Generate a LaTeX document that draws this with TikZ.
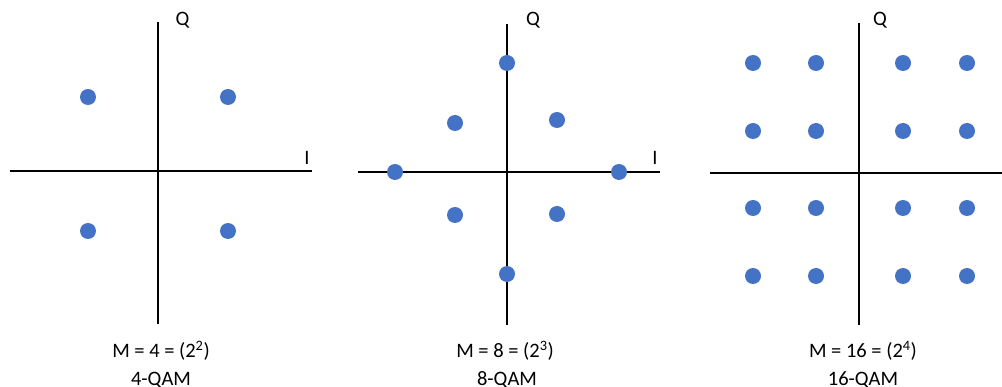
\documentclass[tikz,border=0pt]{standalone}
\usepackage{fontspec}
\setmainfont{Carlito}
\definecolor{dotblue}{HTML}{4472C4}
\begin{document}
\begin{tikzpicture}[x=1pt,y=-1pt,
  dot/.style={circle,fill=dotblue,inner sep=0pt,minimum size=16pt},
  axis/.style={line width=2pt,black},
  lbl/.style={anchor=base,inner sep=0pt,font=\fontsize{20.5}{24}\selectfont}]
\useasboundingbox (0,0) rectangle (1002,387);
% ---------- panel 1 ----------
\coordinate (v1t) at (158,22); \coordinate (v1b) at (158,324);
\coordinate (h1l) at (10,171); \coordinate (h1r) at (312,171);
\draw[axis] (v1t) -- (v1b);
\draw[axis] (h1l) -- (h1r);
\node[lbl] (q1) at (182.5,26) {Q};
\node[lbl] (i1) at (307,165) {I};
\node[dot] (a1) at (88,97) {};
\node[dot] (a2) at (228,97) {};
\node[dot] (a3) at (88,231) {};
\node[dot] (a4) at (228,231) {};
\node[lbl] (m1) at (161,358) {M = 4 = (2\textsuperscript{2})};
\node[lbl] (n1) at (161,385) {4-QAM};
% ---------- panel 2 ----------
\coordinate (v2t) at (507,24); \coordinate (v2b) at (507,325);
\coordinate (h2l) at (358,172); \coordinate (h2r) at (660,172);
\draw[axis] (v2t) -- (v2b);
\draw[axis] (h2l) -- (h2r);
\node[lbl] (q2) at (533,26) {Q};
\node[lbl] (i2) at (655,165) {I};
\node[dot] (b1) at (507,63) {};
\node[dot] (b2) at (455,123) {};
\node[dot] (b3) at (557,120) {};
\node[dot] (b4) at (395,172) {};
\node[dot] (b5) at (619,172) {};
\node[dot] (b6) at (455,215) {};
\node[dot] (b7) at (557,214) {};
\node[dot] (b8) at (507,274) {};
\node[lbl] (m2) at (505,358) {M = 8 = (2\textsuperscript{3})};
\node[lbl] (n2) at (507,385) {8-QAM};
% ---------- panel 3 ----------
\coordinate (v3t) at (859,23); \coordinate (v3b) at (859,325);
\coordinate (h3l) at (710,173); \coordinate (h3r) at (1005,173);
\draw[axis] (v3t) -- (v3b);
\draw[axis] (h3l) -- (h3r);
\node[lbl] (q3) at (880,26) {Q};
\node[lbl] (i3) at (1003.5,165) {I};
\foreach \x [count=\i] in {753,816,903,967}
  \foreach \y [count=\j] in {63,131,208,276}
    \node[dot] (c\i\j) at (\x,\y) {};
\node[lbl] (m3) at (863,358) {M = 16 = (2\textsuperscript{4})};
\node[lbl] (n3) at (863,385) {16-QAM};
\end{tikzpicture}
\end{document}
